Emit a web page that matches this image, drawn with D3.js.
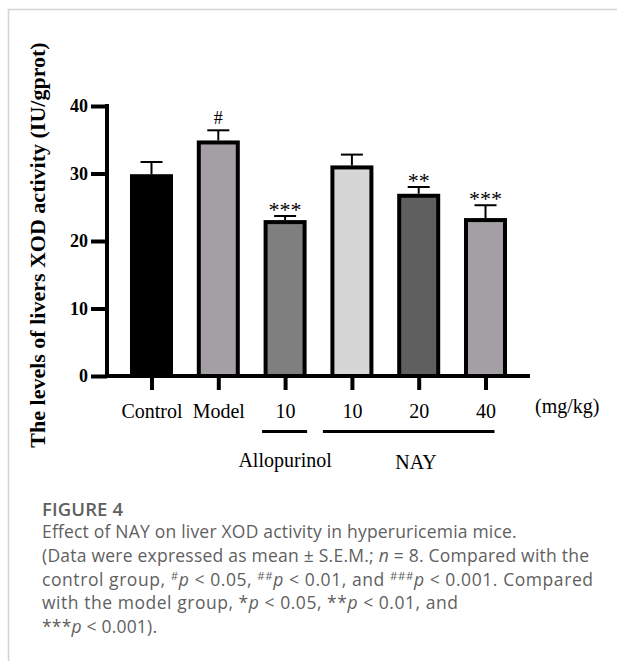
<!DOCTYPE html>
<html>
<head>
<meta charset="utf-8">
<script src="https://cdn.jsdelivr.net/npm/d3@7"></script>
<style>
  html, body { margin: 0; padding: 0; background: #fff; }
  svg { display: block; }
</style>
</head>
<body>
<svg width="617" height="661"></svg>
<script>
const groups = ["Control", "Model", "Allo10", "NAY10", "NAY20", "NAY40"];
const tickLabels = ["Control", "Model", "10", "10", "20", "40"];
const means = [29.6, 34.6, 22.8, 30.9, 26.7, 23.1];
const sems = [2.1, 1.8, 0.9, 1.9, 1.3, 2.2];
const marks = ["", "#", "***", "", "**", "***"];
const fills = ["#000000", "#a49fa5", "#7f7f7f", "#d6d6d6", "#5f5f5f", "#a49fa5"];
const yTicks = [0, 10, 20, 30, 40];

const serif = "'Liberation Serif', 'Times New Roman', serif";
const sans = "'Open Sans', 'Noto Sans', sans-serif";

const data = groups.map((g, i) => ({
    key: g, label: tickLabels[i], mean: means[i], sem: sems[i],
    mark: marks[i], fill: fills[i]
}));

const svg = d3.select("svg");

// page frame
svg.append("path")
    .attr("d", "M8.5,661 V9.5 H617")
    .attr("fill", "none")
    .attr("stroke", "#d4d4d4")
    .attr("stroke-width", 1.5);

const x = d3.scalePoint().domain(groups).range([107, 530]).padding(0.666);
const y = d3.scaleLinear().domain([0, 40]).range([376, 106]);
const barW = 39;

// y axis
const yAxis = d3.axisLeft(y).tickValues(yTicks).tickSize(16).tickPadding(3);
svg.append("g")
    .attr("transform", "translate(107,0)")
    .call(yAxis)
    .call(g => g.select(".domain").attr("stroke-width", 4).attr("d", `M0,${y(40) - 2}V${y(0) + 2}`))
    .call(g => g.selectAll(".tick line").attr("stroke-width", 4))
    .call(g => g.selectAll(".tick text")
        .attr("font-family", serif).attr("font-weight", "bold")
        .attr("font-size", 18).attr("fill", "#000"));

// bars
svg.append("g").selectAll("rect")
    .data(data)
    .join("rect")
    .attr("x", d => x(d.key) - barW / 2)
    .attr("y", d => y(d.mean))
    .attr("width", barW)
    .attr("height", d => y(0) - y(d.mean))
    .attr("fill", d => d.fill)
    .attr("stroke", "#000")
    .attr("stroke-width", 4);

// error bars
const err = svg.append("g").attr("stroke", "#000").attr("stroke-width", 2);
err.selectAll("line.v")
    .data(data)
    .join("line")
    .attr("class", "v")
    .attr("x1", d => x(d.key)).attr("x2", d => x(d.key))
    .attr("y1", d => y(d.mean) - 2).attr("y2", d => y(d.mean + d.sem));
err.selectAll("line.c")
    .data(data)
    .join("line")
    .attr("class", "c")
    .attr("x1", d => x(d.key) - 11).attr("x2", d => x(d.key) + 11)
    .attr("y1", d => y(d.mean + d.sem)).attr("y2", d => y(d.mean + d.sem));

// significance marks
svg.append("g").selectAll("text")
    .data(data.filter(d => d.mark))
    .join("text")
    .attr("x", d => x(d.key))
    .attr("y", d => d.mark === "#" ? y(d.mean + d.sem) - 6 : y(d.mean + d.sem) + 1)
    .attr("text-anchor", "middle")
    .attr("font-family", serif)
    .attr("font-size", d => d.mark === "#" ? 18 : 22)
    .text(d => d.mark);

// x axis
const xAxis = d3.axisBottom(x).tickSize(14).tickPadding(14).tickFormat((d, i) => tickLabels[i]);
svg.append("g")
    .attr("transform", `translate(0,${y(0)})`)
    .call(xAxis)
    .call(g => g.select(".domain").attr("stroke-width", 4).attr("d", "M105,0H530"))
    .call(g => g.selectAll(".tick line").attr("stroke-width", 4))
    .call(g => g.selectAll(".tick text")
        .attr("font-family", serif).attr("font-size", 20).attr("fill", "#000"));

svg.append("text")
    .attr("x", 535).attr("y", 413)
    .attr("font-family", serif).attr("font-size", 20)
    .text("(mg/kg)");

// group underlines
const spans = [
    { name: "Allopurinol", x1: x("Allo10") - 23, x2: x("Allo10") + 22, cx: x("Allo10"), by: 467 },
    { name: "NAY", x1: x("NAY10") - 29, x2: x("NAY40") + 9, cx: 416, by: 469 }
];
svg.append("g").selectAll("line")
    .data(spans)
    .join("line")
    .attr("x1", d => d.x1).attr("x2", d => d.x2)
    .attr("y1", 431.5).attr("y2", 431.5)
    .attr("stroke", "#000").attr("stroke-width", 3);
svg.append("g").selectAll("text")
    .data(spans)
    .join("text")
    .attr("x", d => d.cx).attr("y", d => d.by)
    .attr("text-anchor", "middle")
    .attr("font-family", serif).attr("font-size", 20)
    .text(d => d.name);

// y title
svg.append("text")
    .attr("transform", "translate(45,245) rotate(-90)")
    .attr("text-anchor", "middle")
    .attr("font-family", serif).attr("font-weight", "bold").attr("font-size", 22)
    .text("The levels of livers XOD activity (IU/gprot)");

// caption
const cap = svg.append("g").attr("font-family", sans).attr("fill", "#5f5f5f").attr("font-size", 17.5);
cap.append("text").attr("x", 42).attr("y", 515.5)
    .attr("font-weight", 600).attr("font-size", 18.5)
    .attr("textLength", 81).attr("lengthAdjust", "spacing")
    .text("FIGURE 4");
const lines = [
    [["Effect of NAY on liver XOD activity in hyperuricemia mice."]],
    [["(Data were expressed as mean ± S.E.M.; "], ["n", "i"], [" = 8. Compared with the"]],
    [["control group, "], ["#", "s"], ["p", "i"], [" < 0.05, "], ["##", "s"], ["p", "i"], [" < 0.01, and "], ["###", "s"], ["p", "i"], [" < 0.001. Compared"]],
    [["with the model group, *"], ["p", "i"], [" < 0.05, **"], ["p", "i"], [" < 0.01, and"]],
    [["***"], ["p", "i"], [" < 0.001)."]]
];
const lineEnds = [516.7, 589, 593, 458, 157];
lines.forEach((parts, li) => {
    const t = cap.append("text")
        .attr("x", 42).attr("y", 538 + li * 23.8)
        .attr("textLength", lineEnds[li] - 42).attr("lengthAdjust", "spacing");
    let raised = false;
    parts.forEach(([s, st]) => {
        const ts = t.append("tspan").text(s);
        if (st === "i") ts.attr("font-style", "italic");
        if (st === "s") {
            ts.attr("font-size", 11.5).attr("dy", raised ? 0 : -6);
            raised = true;
        } else if (raised) {
            ts.attr("dy", 6);
            raised = false;
        }
    });
});
</script>
</body>
</html>
